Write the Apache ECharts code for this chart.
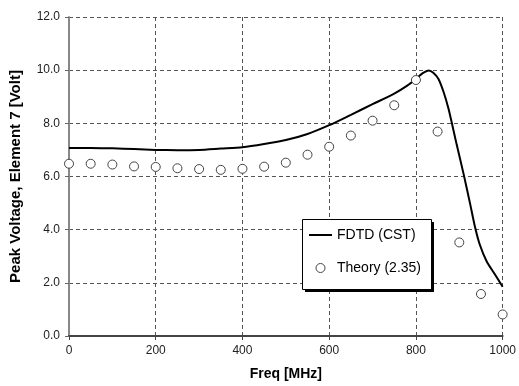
<!DOCTYPE html>
<html>
<head>
<meta charset="utf-8">
<script src="https://cdn.jsdelivr.net/npm/echarts@6/dist/echarts.min.js"></script>
<style>
html,body{margin:0;padding:0;background:#fff;}
#chart{width:519px;height:386px;}
</style>
</head>
<body>
<div id="chart"></div>
<script>
// FDTD (CST) curve
const fdtdFreq = [0, 50, 100, 150, 200, 250, 300, 350, 400, 450, 500, 550, 600, 650, 700, 750, 780, 800, 815, 830, 840, 852, 864, 875, 883, 894, 910, 925, 936, 947, 963, 982, 1000];
const fdtdVolt = [7.07, 7.07, 7.06, 7.03, 7.00, 6.99, 7.00, 7.05, 7.10, 7.22, 7.37, 7.60, 7.93, 8.32, 8.72, 9.12, 9.42, 9.67, 9.88, 9.99, 9.90, 9.67, 9.17, 8.56, 8.00, 7.20, 6.09, 4.97, 4.12, 3.45, 2.81, 2.32, 1.85];
// Theory (2.35) points
const theoryFreq = [0, 50, 100, 150, 200, 250, 300, 350, 400, 450, 500, 550, 600, 650, 700, 750, 800, 850, 900, 950, 1000];
const theoryVolt = [6.48, 6.48, 6.45, 6.38, 6.36, 6.31, 6.28, 6.25, 6.29, 6.37, 6.52, 6.82, 7.12, 7.54, 8.10, 8.68, 9.63, 7.69, 3.52, 1.58, 0.81];
const seriesNames = ['FDTD (CST)', 'Theory (2.35)'];
const xAxisName = 'Freq [MHz]';
const yAxisName = 'Peak Voltage, Element 7 [Volt]';

const font = "'Liberation Sans', Arial, sans-serif";
const chart = echarts.init(document.getElementById('chart'), null, {renderer: 'canvas'});
const gridDash = {color: '#555', width: 1, type: [4, 3]};

chart.setOption({
  backgroundColor: '#fff',
  animation: false,
  grid: {left: 67, right: 16, top: 17, bottom: 45, containLabel: false},
  graphic: [
    {type: 'rect', z: 50, shape: {x: 305, y: 222, width: 129, height: 70}, style: {fill: '#000'}, silent: true},
    {type: 'rect', z: 51, shape: {x: 302.5, y: 219.5, width: 129, height: 70}, style: {fill: '#fff', stroke: '#000', lineWidth: 1}, silent: true}
  ],
  xAxis: {
    type: 'value', min: 0, max: 1000, interval: 200,
    name: xAxisName, nameLocation: 'middle', nameGap: 31,
    nameTextStyle: {fontFamily: font, fontSize: 14, fontWeight: 'bold', color: '#000'},
    axisLine: {show: true, onZero: false, lineStyle: {color: '#444', width: 2}},
    axisTick: {show: true, length: 4, lineStyle: {color: '#444', width: 1}},
    axisLabel: {fontFamily: font, fontSize: 12, color: '#222', margin: 9,
      formatter: v => String(v)},
    splitLine: {show: true, showMinLine: false, lineStyle: gridDash}
  },
  yAxis: {
    type: 'value', min: 0, max: 12, interval: 2,
    name: yAxisName, nameLocation: 'middle', nameGap: 46,
    nameTextStyle: {fontFamily: font, fontSize: 15, fontWeight: 'bold', color: '#000'},
    axisLine: {show: true, onZero: false, lineStyle: {color: '#888', width: 2}},
    axisTick: {show: true, length: 4, lineStyle: {color: '#666', width: 1}},
    axisLabel: {fontFamily: font, fontSize: 12, color: '#222', margin: 9,
      formatter: v => v.toFixed(1)},
    splitLine: {show: true, showMinLine: false, lineStyle: gridDash}
  },
  legend: {
    orient: 'vertical', left: 302, top: 219, z: 60,
    padding: [9, 8, 11, 7], itemGap: 19, itemWidth: 23, itemHeight: 9,
    backgroundColor: 'transparent', borderWidth: 0,
    textStyle: {fontFamily: font, fontSize: 14, color: '#000'},
    data: [
      {name: seriesNames[0], icon: 'path://M0,0 H23 V2 H0 Z', itemStyle: {color: '#000', borderWidth: 0}},
      {name: seriesNames[1], icon: 'circle', itemStyle: {color: '#fff', borderColor: '#444', borderWidth: 1}}
    ]
  },
  series: [
    {
      name: seriesNames[0], type: 'line', symbol: 'none', showSymbol: false,
      smooth: 0.25,
      lineStyle: {color: '#000', width: 2},
      itemStyle: {color: '#000'},
      data: fdtdFreq.map((f, i) => [f, fdtdVolt[i]]),
      z: 2
    },
    {
      name: seriesNames[1], type: 'scatter', symbol: 'circle', symbolSize: 9,
      itemStyle: {color: '#fff', borderColor: '#444', borderWidth: 1, opacity: 1},
      data: theoryFreq.map((f, i) => [f, theoryVolt[i]]),
      z: 3
    }
  ]
});
</script>
</body>
</html>
